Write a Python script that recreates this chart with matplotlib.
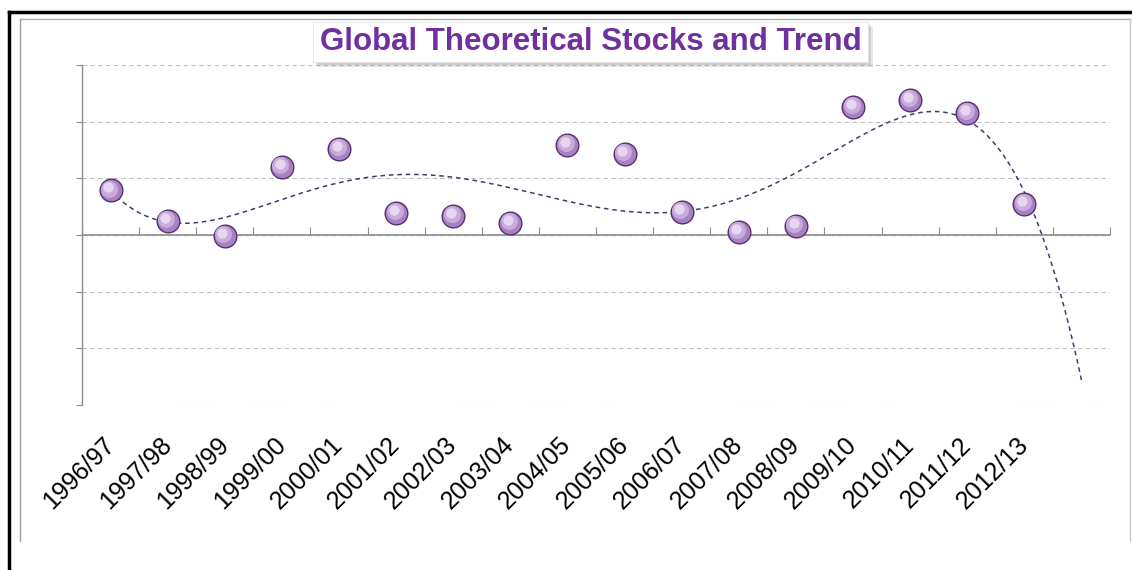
import numpy as np
import matplotlib.pyplot as plt
from matplotlib.lines import Line2D
from matplotlib.patches import Rectangle

# ---------------------------------------------------------------------------
# data
# ---------------------------------------------------------------------------
seasons = ['1996/97', '1997/98', '1998/99', '1999/00', '2000/01', '2001/02',
           '2002/03', '2003/04', '2004/05', '2005/06', '2006/07', '2007/08',
           '2008/09', '2009/10', '2010/11', '2011/12', '2012/13']
stocks = [0.79, 0.25, -0.02, 1.20, 1.52, 0.39, 0.34, 0.21, 1.59, 1.43,
          0.41, 0.05, 0.16, 2.26, 2.38, 2.15, 0.55]
# trend line as read at each category centre (one forecast period past the data)
trend = [0.79, 0.21, 0.30, 0.67, 0.93, 1.04, 0.99, 0.81, 0.62, 0.48,
         0.44, 0.62, 1.00, 1.68, 2.15, 2.15, 0.62, -2.52]
trend_order = 6           # polynomial trendline

title = 'Global Theoretical Stocks and Trend'
purple = '#7030a0'

plt.rcParams['font.family'] = ['Liberation Sans', 'DejaVu Sans']

fig = plt.figure(figsize=(11.32, 5.70), dpi=100)
fig.patch.set_facecolor('white')
W, H = 1132, 570

def fx(px):
    return px / W

def fy(py):
    return 1 - py / H

ax = fig.add_axes([fx(82), fy(405), fx(1110) - fx(82), fy(65) - fy(405)])

n = len(seasons)
x = np.arange(n)
xtr = np.arange(len(trend))

# smooth polynomial trend through the read trend values
coef = np.polyfit(xtr, trend, trend_order)
xt = np.linspace(0, len(trend) - 1, 300)
ax.plot(xt, np.polyval(coef, xt), color='#3c3f6a', lw=1.1,
        dashes=(3, 2.5), zorder=2)

# "sphere" markers: dark rim, body, soft highlight
y = np.array(stocks)
ax.scatter(x, y, s=300, color='#55306f', zorder=3, linewidths=0)
ax.scatter(x, y, s=235, color='#a682c2', zorder=4, linewidths=0)
ax.scatter(x - 0.025, y + 0.03, s=150, color='#c8abdc', zorder=5, linewidths=0)
ax.scatter(x - 0.04, y + 0.05, s=55, color='#e6d6f0', zorder=6, linewidths=0)

ax.set_xlim(-0.5, len(trend) - 0.5)
ax.set_ylim(-3, 3)

# gridlines
ax.set_yticks(np.arange(-3, 4, 1))
ax.yaxis.grid(True, color='#bdbdbd', lw=0.8, dashes=(4, 3))
ax.set_axisbelow(True)
ax.tick_params(axis='y', length=4, color='#8c8c8c', labelleft=False)

for side in ['top', 'right', 'bottom']:
    ax.spines[side].set_visible(False)
ax.spines['left'].set_color('#8c8c8c')
ax.spines['left'].set_linewidth(1.0)

# category labels at the bottom of the plot area
ax.set_xticks(x)
ax.set_xticklabels(seasons, rotation=45, ha='right', va='center',
                   rotation_mode='anchor', fontsize=18)
ax.tick_params(axis='x', length=0, pad=26)

# horizontal category axis crossing at zero
ax.axhline(0, color='#8c8c8c', lw=1.2, zorder=1.5)
sec = ax.secondary_xaxis(0.5)
sec.set_xticks(np.arange(len(trend) + 1) - 0.5)
sec.set_xticklabels([])
sec.tick_params(axis='x', direction='out', length=6, color='#8c8c8c')
for sp in sec.spines.values():
    sp.set_visible(False)

# title box with soft shadow
for off, a in [(5, 0.18), (3, 0.25)]:
    fig.add_artist(Rectangle((fx(313 + off), fy(62 + off)), fx(868) - fx(313),
                             fy(22) - fy(62), transform=fig.transFigure,
                             facecolor='#808080', edgecolor='none', alpha=a))
fig.add_artist(Rectangle((fx(313), fy(62)), fx(868) - fx(313), fy(22) - fy(62),
                         transform=fig.transFigure, facecolor='white',
                         edgecolor='#e4e4e4', lw=0.6))
fig.text(fx(591), fy(42), title, ha='center', va='center', fontsize=22.5,
         fontweight='bold', color=purple)

# page frame: black outer lines and grey chart-area border
fig.add_artist(Line2D([fx(9), fx(1132)], [fy(12), fy(12)], color='black', lw=2.5))
fig.add_artist(Line2D([fx(9), fx(9)], [fy(12), 0], color='black', lw=2.5))
fig.add_artist(Line2D([fx(20), fx(1130)], [fy(19), fy(19)], color='#b0b0b0', lw=1.0))
fig.add_artist(Line2D([fx(20), fx(20)], [fy(19), fy(541)], color='#a0a0a0', lw=1.0))
fig.add_artist(Line2D([fx(1130), fx(1130)], [fy(19), fy(541)], color='#c8c8c8', lw=1.0))

fig.savefig('out.png', dpi=100)
